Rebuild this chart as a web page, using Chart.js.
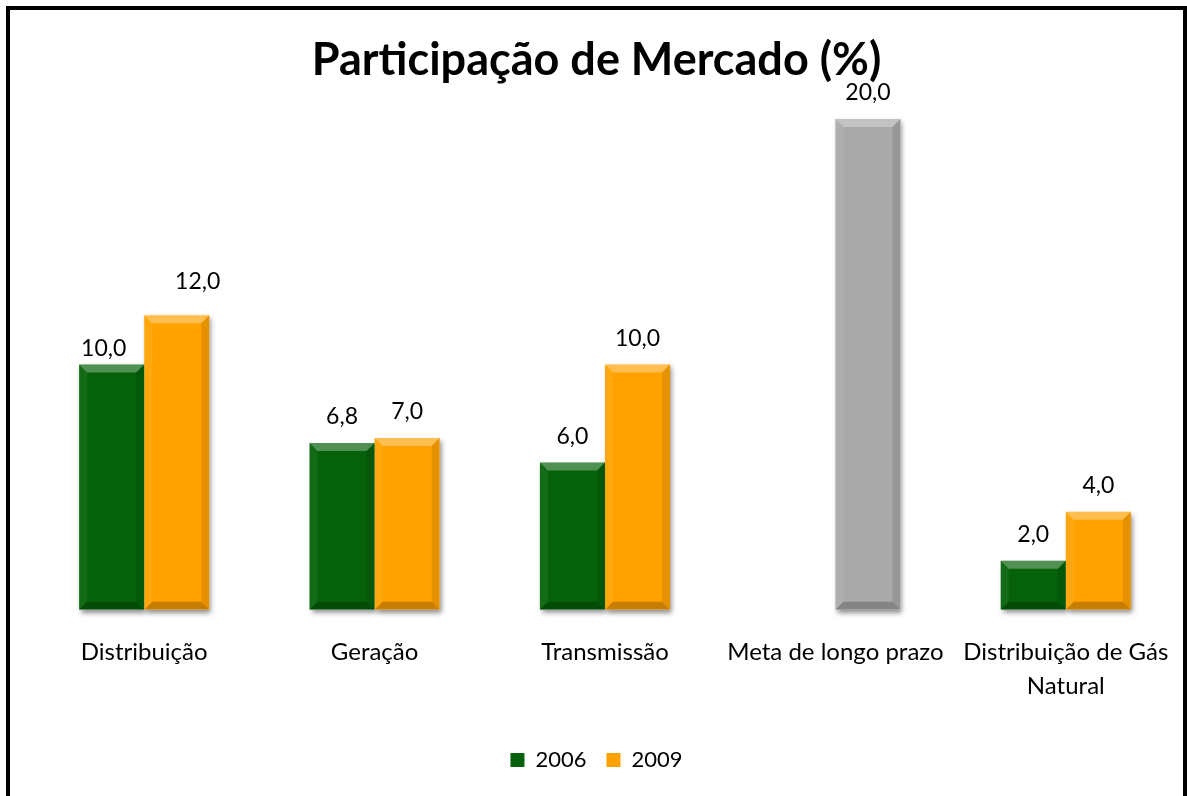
<!DOCTYPE html>
<html>
<head>
<meta charset="utf-8">
<script src="https://cdn.jsdelivr.net/npm/chart.js@4.4.0/dist/chart.umd.min.js"></script>
<style>
  html, body { margin: 0; padding: 0; background: #fff; overflow: hidden; }
  #wrap { position: absolute; left: 0; top: 0; width: 1187px; height: 796px; }
  #frame {
    position: absolute; left: 6px; top: 6px; width: 1173px; height: 820px;
    border: 4px solid #000; pointer-events: none;
  }
</style>
</head>
<body>
<div id="wrap"><canvas id="grafico"></canvas></div>
<div id="frame"></div>
<script>
// dados do gráfico
const categorias = ['Distribuição', 'Geração', 'Transmissão', 'Meta de longo prazo', ['Distribuição de Gás', 'Natural']];
const serie2006 = [10.0, 6.8, 6.0, null, 2.0];
const serie2009 = [12.0, 7.0, 10.0, 20.0, 4.0];
const nomesSeries = ['2006', '2009'];

const verde = '#05620a';
const laranja = '#ffa200';
const cinza = '#a9a9a9';
const fonte = 'Lato, "Open Sans", sans-serif';

// deslocamentos manuais dos rótulos (como no Excel)
const ajusteRotulos = {
  '0-0': { dx: -8, dy: 16 },
  '1-0': { dx: 21, dy: 34 }
};

// rótulos de dados em cima das barras
const rotulosPlugin = {
  id: 'rotulos',
  afterDatasetsDraw(chart) {
    const ctx = chart.ctx;
    ctx.save();
    ctx.font = '23px ' + fonte;
    ctx.fillStyle = '#000';
    ctx.textAlign = 'center';
    ctx.textBaseline = 'middle';
    chart.data.datasets.forEach((ds, i) => {
      chart.getDatasetMeta(i).data.forEach((bar, j) => {
        const v = ds.data[j];
        if (v === null || v === undefined) return;
        const aj = ajusteRotulos[i + '-' + j] || { dx: 0, dy: 26 };
        ctx.fillText(v.toFixed(1).replace('.', ','), bar.x + aj.dx, bar.y - aj.dy);
      });
    });
    ctx.restore();
  }
};

// efeito de chanfro nas barras
const chanfroPlugin = {
  id: 'chanfro',
  beforeDatasetsDraw(chart) {
    const ctx = chart.ctx;
    ctx.save();
    ctx.shadowColor = 'rgba(0,0,0,0.45)';
    ctx.shadowBlur = 5;
    ctx.shadowOffsetX = 2;
    ctx.shadowOffsetY = 3;
    ctx.fillStyle = '#fff';
    chart.data.datasets.forEach((ds, i) => {
      chart.getDatasetMeta(i).data.forEach((bar, j) => {
        if (ds.data[j] === null) return;
        ctx.fillRect(bar.x - bar.width / 2, bar.y, bar.width, bar.base - bar.y);
      });
    });
    ctx.restore();
  },
  afterDatasetsDraw(chart) {
    const ctx = chart.ctx;
    const b = 8;
    ctx.save();
    chart.data.datasets.forEach((ds, i) => {
      chart.getDatasetMeta(i).data.forEach((bar, j) => {
        if (ds.data[j] === null) return;
        const l = bar.x - bar.width / 2, r = bar.x + bar.width / 2;
        const t = bar.y, bt = bar.base;
        const poly = (pts, cor) => {
          ctx.beginPath();
          ctx.moveTo(pts[0][0], pts[0][1]);
          pts.slice(1).forEach(p => ctx.lineTo(p[0], p[1]));
          ctx.closePath();
          ctx.fillStyle = cor;
          ctx.fill();
        };
        poly([[l, t], [r, t], [r - b, t + b], [l + b, t + b]], 'rgba(255,255,255,0.3)');
        poly([[l, t], [l + b, t + b], [l + b, bt - b], [l, bt]], 'rgba(255,255,255,0.06)');
        poly([[r, t], [r - b, t + b], [r - b, bt - b], [r, bt]], 'rgba(0,0,0,0.1)');
        poly([[l, bt], [l + b, bt - b], [r - b, bt - b], [r, bt]], 'rgba(0,0,0,0.22)');
      });
    });
    ctx.restore();
  }
};

const cores2009 = serie2009.map((v, j) => (j === 3 ? cinza : laranja));

new Chart(document.getElementById('grafico'), {
  type: 'bar',
  data: {
    labels: categorias,
    datasets: [
      { label: nomesSeries[0], data: serie2006, backgroundColor: verde, borderWidth: 0 },
      { label: nomesSeries[1], data: serie2009, backgroundColor: cores2009, borderWidth: 0 }
    ]
  },
  options: {
    responsive: true,
    maintainAspectRatio: false,
    animation: false,
    layout: { padding: { left: 12, right: 6, top: 0, bottom: 15 } },
    datasets: { bar: { categoryPercentage: 0.565, barPercentage: 1 } },
    scales: {
      x: {
        grid: { display: false, drawTicks: false },
        border: { display: false },
        ticks: { color: '#000', font: { family: fonte, size: 24, lineHeight: 1.4 }, padding: 26, maxRotation: 0, autoSkip: false },
        afterFit: (s) => { s.paddingLeft = 0; s.paddingRight = 0; }
      },
      y: {
        min: 0,
        max: 20,
        grid: { display: false, drawTicks: false },
        border: { display: false },
        ticks: { display: false },
        afterFit: (s) => { s.width = 17; }
      }
    },
    plugins: {
      title: {
        display: true,
        text: 'Participação de Mercado (%)',
        color: '#000',
        font: { family: fonte, size: 45, weight: 'bold', lineHeight: 1.2 },
        padding: { top: 33, bottom: 32 }
      },
      legend: {
        position: 'bottom',
        labels: {
          color: '#000',
          font: { family: fonte, size: 22 },
          boxWidth: 14,
          boxHeight: 14,
          padding: 20,
          generateLabels: () => [
            { text: nomesSeries[0], fillStyle: verde, strokeStyle: verde, lineWidth: 0, datasetIndex: 0 },
            { text: nomesSeries[1], fillStyle: laranja, strokeStyle: laranja, lineWidth: 0, datasetIndex: 1 }
          ]
        }
      },
      tooltip: { enabled: false }
    }
  },
  plugins: [chanfroPlugin, rotulosPlugin]
});
</script>
</body>
</html>
